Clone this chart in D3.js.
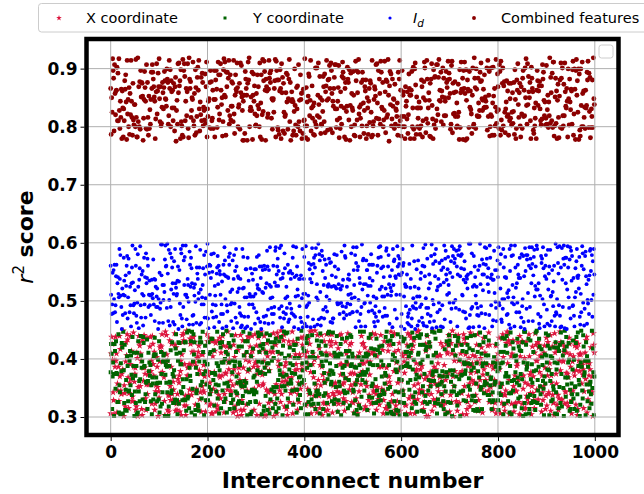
<!DOCTYPE html>
<html lang="en">
<head>
<meta charset="UTF-8">
<title>r2 score per interconnect</title>
<script src="https://d3js.org/d3.v7.min.js"></script>
<style>
    body { margin: 0; background: #fff; }
    svg { display: block; font-family: 'DejaVu Sans', sans-serif; }
    .tick text { font-family: 'DejaVu Sans', sans-serif; font-weight: bold; font-size: 17px; fill: #000; }
    .tick line { stroke: #000; stroke-width: 1; }
</style>
</head>
<body>
<svg id="chart" width="644" height="494"></svg>
<script>
// Interconnect numbers on the x axis (one point per interconnect and series)
const interconnects = d3.range(1000);

// Scores: two digits per point = position inside the band (00 bottom .. 99 top)
const xCoordRows = [
    "0472918365281903645791647205383057189246773026498154980136271263857094884510273960924375182318965740",
    "4956081273670134928581357264090287564193564921083790264837513780915264159283604774081529366857340129",
    "2263798150809451637245180297639371640825062487351957832619403146958207791508264318394706526402719385",
    "9587136024021398475647256031898360257491309174856214583209676974815320284906713571305928465206381794",
    "8652479013392715048604693287517513840629138609254790452173864792638105261850497380319762546579413028",
    "1749360582546812930738250176495617429308021934875608397142651487305291926354807104689275315708329461",
    "6381024957903615748202975148363864920175570231846928160953743029186574749501832615823704969164587230",
    "3517982640465087931258416209370239458617816927304597048615322953716084540826391771683290546082549137",
    "7290541368157432896026839751049813607245246598103731059368422478105936935702481642861539077394260815",
    "5023867194818694052736702415398435182906781527936048946028371521390745861872604395607531824936841750",
    "2816053749573921684004681529734750379261835284610979126840356308741925486390157216957430283571942608",
    "6934182057148026935732587604198629471038560913758246403582971817260493529574081362041839765384160729",
    "4158726930896350147213048267955721936804249076152381873604195261549720389827316054473058162909261743",
    "8375014692260179843551392648079846205713387154206935612938704570843916258013475929164205837472509381",
    "0693258417729846013564527093188207159364164983725027520361948935847162030917582467381296505842617093",
    "3840176925518263940719350842676179320548905461732842376059813096178245342659081755093742168204816539",
    "7261905438042735168994681325072530841697619587420383046915722987350614471630295861854217039269028547",
    "1586324709673910852458203716946948275103358027461910739582643164852079825169347006472819357381560924",
    "9013478526285461930747398025161602957384493814762508216497538519208364637480152928507316491245908371",
    "5728041963306952478186145379020983647152727160385948541029637343879105622038476154167930284601958273"
];
const yCoordRows = [
    "5183720946624901837532865049171794053628036152847904975316820831420769581829306475367048259144587301",
    "2947165803730586294118439270566320918457581726403988094173526247591836034538206971902671453818396520",
    "8605391274491528637063720148593957286401125840397627308549164653162078947219036485158473602960271943",
    "3476208519850743962123981056474186059732639471850208562730491412076385903685214097744902638152193760",
    "6019853472267431895089504276135048372961972158360453847910628530946217386621749805397135846209802516",
    "9351642087105863297446273915801862594037358016249770413586293974028615542895170369063129784526473018",
    "1728405396639274508151940362788307125649247395610887615204932085316479103467298515890634217442108653",
    "4860917235028146973567309548129621387054796142385030591476826749823105318920674537254610983961537842",
    "7514038962845692031730682759142093746815513867092429872630158126049573866371580924503927816470164395",
    "0297486153374018529649157320683458927106681940357283027189564916305827447563902810684275139358916072",
    "6831290457193756084202476813599710482365425168973048397251680854719023616094783522385916047770431689",
    "3059761824807325196446813059272638509147970486321559123487060492657183031867295408516394072843021756",
    "9142573086251689037458027461398069315742738210965423659017284315480692717345908261940728653582064917",
    "2476809315693042851780354162974852704196168973520436201598473798132640524618093577032951864605178293",
    "8753164029014876532935927081462513869027436501294782487530196260495318749082613544783160925319247608",
    "5624930718386109745207458296313472095861852736409170613849257087251936434509172862196837405740836152",
    "1908275634742561389062037415894681509273391846270558962703418530784269125170643989452180367623497510",
    "4385016297169703825457612389040925874316603918745224170896539816423057898035261477685941320246713895",
    "7062548193530278416918496720353179620485285403617910753482169649128570330176984523918037456284650731",
    "0917382654872165093435849107269658423701146298573021938047516402853769185764291037402615983378510246"
];
const idRows = [
    "7340182965196835742028617409536041379258853926014717408256391962507384133781652049280453719654281930",
    "4592731608318649025770952814634167053982296014875359817326405628391740574136802958105749263847260135",
    "0865243197629751083451438096727325986410913405872646827153094178069253483941567201556830179287130496",
    "2679518340964012375851320689744982705316061748395232950871645835427106914608293751702985146336891472",
    "9813026574407359862166291487035039281564718452730967634018295502187463947935610428216059837487432910",
    "3146790258853067149272084361594726195803160592478348153702696937048215562941387001386429573825690741",
    "6920835147138546720959017243684215730869481653907223076851943649251837087318265490945063728150672493",
    "1458962703596420138770361849253874096512306758241964829517036015389462724639015827581462093692034158",
    "8307419526042815397631695803745493641275820471859337520634981286794305149084672351138059267438215049",
    "5281347609774962081313508672496047853129695230184746318950275720139684822617493058406357182941873620",
    "2094685137850376942168723410595318042697467981523031045279686839502174593150867422567438091904271536",
    "6573108294214695837049381572603825164790931640728552076148394468039251788023615940139572846375814062",
    "0418659273763801524927496308151906752348580413962736257849013124693805794710382658652914730893057261",
    "9736250481182547630953168497023475291086617892034520495831762351046879280371549612819063574069835142",
    "3165097824956084319276813425907204638591239561847086403921576978205413615847630298031798652487264903",
    "8451726039304917256816047398522719806345756302941874938160527043179682592863045711579042683225106879",
    "6094312875478612093524927135608360591742183745069267029684315185372904967148205331746359208259031486",
    "2735840961019367852480854210739426817053947510628391385072469692461853070239158476813594702904617385",
    "5823079146647205913839106843275573160498201835947664289516037104935726819674028253820146957137258094",
    "1390568427285916043770437892615962478315064120739587316905248489615207343057186290926734851578409263"
];
const combinedRows = [
    "6208513497837412905631596087248024973615472861035939053824716178460295324917630856319547280768251943",
    "4317962805059823641770148352696853012749826347159014692807531537204981629081736452470326589132598064",
    "9750236418214069573863827150494185736920309562841771583960246839126475003648209157926571038423180796",
    "0583917624476230589115049873627028365149932418560784631029758760953812463175248069184036257921649305",
    "3829475016698315702427601549830549728361164093782532789160435106238497549352078164813674952030782541",
    "7041682395320954786158926317404368149257895236014701540982736254016893729817364052368102547947653218",
    "1956307842643817920545780231963571948260017364592832619574806983275014485034627196059483721613720859",
    "8462039157751268340929315780467814507396236901475849074612358542190763386517902348127849560357096124",
    "2597180463184602537976304895123965274108450723861917863054924328765109201948357664237910586595481372",
    "5073896214928356104741627590389016382547638904271558412076938174390562690235418773692584014280175639",
    "3682540719069471832557819632400527436918817245093664597203185139084762227168340595071823496461539027",
    "9145078326735620948140386917253694581072287031965400658243791826734150491567203836294507811873952460",
    "0629831754582917036441472658093179625403546082173987140385926608523917273946150839187264052451709386",
    "4810269573213957480668057391422603841975761524903890317596486047812359528619743051473082696372945180",
    "7356142089941068325733702958164518296734028416579361597402836293560184480372615916824059373209548617",
    "2098746315856130297445293681709271503648613978405247408613952954820617318629074587530762184096213579",
    "6437159082079425136886186570341038467129593107682450276819345721356908844903157260914328576818056432",
    "1574832960308651974220914376585169240387746258130939182745036083714259657038241965269073814830461927",
    "8920375416463098217557248016939306185274215903486728045372169274158630186730925841396247058550197346",
    "3761592084940732856102839654713485027913068542179356175928401560394281729416803575041638297216985043"
];

// Score band of each series (bottom, top)
const xCoordBand = [0.300, 0.450];
const yCoordBand = [0.300, 0.450];
const idBand = [0.450, 0.600];
const combinedBand = [0.775, 0.920];

const xTicks = [0, 200, 400, 600, 800, 1000];
const yTicks = [0.3, 0.4, 0.5, 0.6, 0.7, 0.8, 0.9];
const xDomain = [-49.95, 1048.95];
const yDomain = [0.269, 0.951];

// Turns the digit rows into score values
const readScores = (rows, band) => {
    const s = rows.join('');
    const out = [];
    for (let i = 0; i + 1 < s.length; i += 2) {
        const code = +s.substr(i, 2);
        out.push(band[0] + code / 99 * (band[1] - band[0]));
    }
    return out;
};

const series = [
    { name: 'X coordinate', color: '#dc143c', shape: 'star', scores: readScores(xCoordRows, xCoordBand) },
    { name: 'Y coordinate', color: '#006400', shape: 'square', scores: readScores(yCoordRows, yCoordBand) },
    { name: 'I_d', color: '#0000ff', shape: 'small', scores: readScores(idRows, idBand) },
    { name: 'Combined features', color: '#8b0000', shape: 'big', scores: readScores(combinedRows, combinedBand) }
];

const svg = d3.select('#chart');
const plot = { left: 86.5, right: 618.5, top: 39, bottom: 435 };

const x = d3.scaleLinear().domain(xDomain).range([plot.left, plot.right]);
const y = d3.scaleLinear().domain(yDomain).range([plot.bottom, plot.top]);

svg.append('defs').append('clipPath').attr('id', 'clip')
    .append('rect')
    .attr('x', plot.left).attr('y', plot.top)
    .attr('width', plot.right - plot.left).attr('height', plot.bottom - plot.top);

// marker path per shape
const markerPath = {
    star: d3.symbol(d3.symbolStar, 16)(),
    square: d3.symbol(d3.symbolSquare, 16)(),
    small: d3.symbol(d3.symbolCircle, 12)(),
    big: d3.symbol(d3.symbolCircle, 19)()
};

const pointsLayer = svg.append('g').attr('clip-path', 'url(#clip)');
series.forEach(s => {
    pointsLayer.append('g')
        .selectAll('path')
        .data(s.scores)
        .join('path')
        .attr('d', markerPath[s.shape])
        .attr('transform', (d, i) => `translate(${x(interconnects[i])},${y(d)})`)
        .attr('fill', s.color);
});

// grid sits above the scatter, like matplotlib's default
const grid = svg.append('g').attr('stroke', '#b0b0b0').attr('stroke-width', 1);
grid.selectAll('.gx').data(xTicks).join('line')
    .attr('x1', d => x(d)).attr('x2', d => x(d))
    .attr('y1', plot.top).attr('y2', plot.bottom);
grid.selectAll('.gy').data(yTicks).join('line')
    .attr('x1', plot.left).attr('x2', plot.right)
    .attr('y1', d => y(d)).attr('y2', d => y(d));

// axes
const xAxis = svg.append('g')
    .attr('transform', `translate(0,${plot.bottom + 2})`)
    .call(d3.axisBottom(x).tickValues(xTicks).tickFormat(d3.format('d')).tickSize(4).tickPadding(5));
xAxis.select('.domain').remove();

const yAxis = svg.append('g')
    .attr('transform', `translate(${plot.left - 2},0)`)
    .call(d3.axisLeft(y).tickValues(yTicks).tickFormat(d3.format('.1f')).tickSize(4).tickPadding(3));
yAxis.select('.domain').remove();

// thick frame
svg.append('rect')
    .attr('x', plot.left).attr('y', plot.top)
    .attr('width', plot.right - plot.left).attr('height', plot.bottom - plot.top)
    .attr('fill', 'none').attr('stroke', '#000').attr('stroke-width', 4.5);

// empty legend box in the top right corner of the axes
svg.append('rect')
    .attr('x', 599).attr('y', 45).attr('width', 14).attr('height', 13).attr('rx', 2.5)
    .attr('fill', '#fff').attr('fill-opacity', 0.8)
    .attr('stroke', '#cccccc').attr('stroke-width', 1);

// axis labels
svg.append('text')
    .attr('x', (plot.left + plot.right) / 2).attr('y', 488)
    .attr('text-anchor', 'middle')
    .style('font-size', '22px').style('font-weight', 'bold')
    .text('Interconnect number');

const yLabel = svg.append('text')
    .attr('transform', `translate(33,${(plot.top + plot.bottom) / 2}) rotate(-90)`)
    .attr('text-anchor', 'middle')
    .style('font-size', '22px');
yLabel.append('tspan').style('font-style', 'italic').text('r');
yLabel.append('tspan').attr('dy', -9).style('font-size', '15px').text('2');
yLabel.append('tspan').attr('dy', 9).style('font-weight', 'bold').text(' score');

// legend on top
const legend = svg.append('g');
legend.append('rect')
    .attr('x', 38.5).attr('y', 3.5).attr('width', 640).attr('height', 28.5).attr('rx', 3)
    .attr('fill', '#fff').attr('stroke', '#cccccc').attr('stroke-width', 1);

const legendMarkerX = [59, 225, 390, 474];
const legendTextX = [86, 253, 413, 501];
const legendMarker = {
    star: d3.symbol(d3.symbolStar, 10)(),
    square: d3.symbol(d3.symbolSquare, 9)(),
    small: d3.symbol(d3.symbolCircle, 8)(),
    big: d3.symbol(d3.symbolCircle, 12)()
};
series.forEach((s, i) => {
    legend.append('path')
        .attr('d', legendMarker[s.shape])
        .attr('transform', `translate(${legendMarkerX[i]},18)`)
        .attr('fill', s.color);
    const t = legend.append('text')
        .attr('x', legendTextX[i]).attr('y', 22.5)
        .style('font-size', '14.5px');
    if (s.name === 'I_d') {
        t.append('tspan').style('font-style', 'italic').text('I');
        t.append('tspan').attr('dy', 4).style('font-size', '10.5px').style('font-style', 'italic').text('d');
    } else {
        t.text(s.name);
    }
});
</script>
</body>
</html>
